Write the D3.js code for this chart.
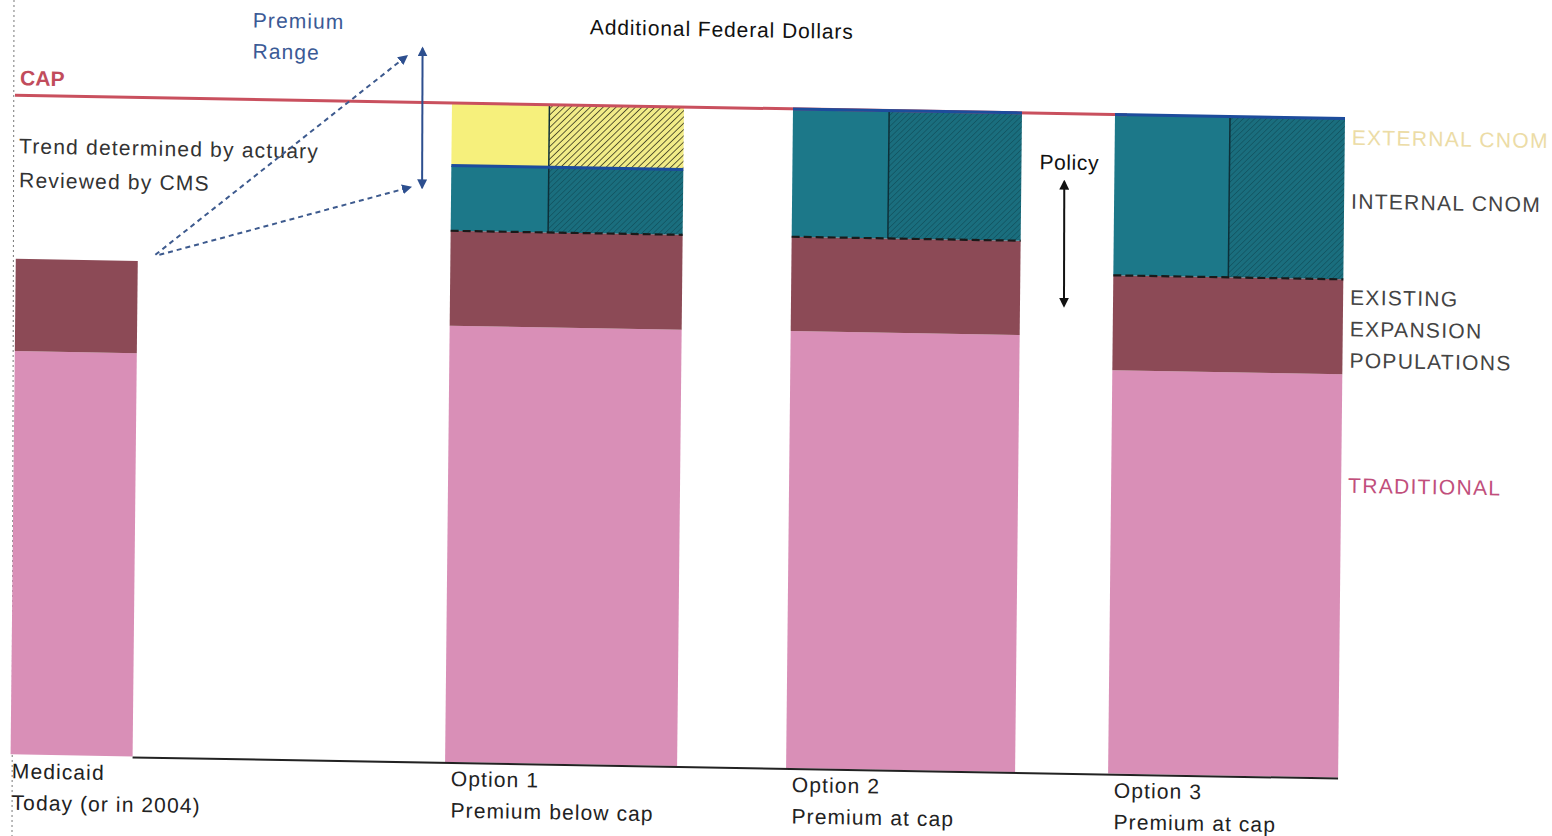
<!DOCTYPE html>
<html><head><meta charset="utf-8">
<script src="https://cdn.jsdelivr.net/npm/d3@7"></script>
<style>body{margin:0;background:#fff}svg{display:block}text{font-family:"Liberation Sans",Arial,sans-serif;letter-spacing:1.1px}</style>
</head><body>
<script>
// ---- data ----
const categories = ["Medicaid", "Option 1", "Option 2", "Option 3"];
const labelLine1 = ["Medicaid", "Option 1", "Option 2", "Option 3"];
const labelLine2 = ["Today (or in 2004)", "Premium below cap", "Premium at cap", "Premium at cap"];
const traditional = [61.2, 66.2, 66.3, 61.2];
const existingExpansion = [14.0, 14.4, 14.3, 14.4];
const internalCnom = [0, 9.9, 19.4, 24.4];
const externalCnom = [0, 9.5, 0, 0];
const capValue = 100;
const hatchShare = [0, 0.58, 0.58, 0.50]; // share of top segments that is hatched (right part)
const seriesKeys = ["traditional", "existing", "internal", "external"];
const legendLabels = [["TRADITIONAL"], ["EXISTING", "EXPANSION", "POPULATIONS"], ["INTERNAL CNOM"], ["EXTERNAL CNOM"]];

// ---- layout ----
const W = 1552, H = 836;
const colors = {traditional: "#d98fb7", existing: "#8c4a56", internal: "#1c7889", external: "#f6f07c"};

const rows = categories.map((c, i) => ({cat: c, traditional: traditional[i], existing: existingExpansion[i], internal: internalCnom[i], external: externalCnom[i], hatch: hatchShare[i]}));

const svg = d3.select("body").append("svg").attr("width", W).attr("height", H);
const defs = svg.append("defs");

function hatchPattern(id, base, line, lw, gap) {
  const p = defs.append("pattern").attr("id", id).attr("patternUnits", "userSpaceOnUse")
    .attr("width", gap).attr("height", gap).attr("patternTransform", "rotate(45)");
  p.append("rect").attr("width", gap).attr("height", gap).attr("fill", base);
  p.append("line").attr("x1", 0).attr("y1", 0).attr("x2", 0).attr("y2", gap).attr("stroke", line).attr("stroke-width", lw);
}
hatchPattern("hatchYellow", "#f2ec88", "#3a3a20", 1.6, 4.5);
hatchPattern("hatchTeal", "#1a6e7e", "#11525f", 1.4, 4);

// faint scan edge on the left
svg.append("line").attr("x1", 14).attr("x2", 12).attr("y1", 0).attr("y2", H)
  .attr("stroke", "#777").attr("stroke-width", 1).attr("stroke-dasharray", "2,3");

const g = svg.append("g").attr("transform", "matrix(1,0.0175,-0.0105,1,0,0)");

const x = d3.scaleOrdinal().domain(categories).range([18.5, 453, 794, 1116]);
const bw = d3.scaleOrdinal().domain(categories).range([122, 232, 229, 230]);
const y = d3.scaleLinear().domain([0, capValue]).range([754, 95]);

const stack = d3.stack().keys(seriesKeys)(rows);

const layers = g.append("g");
stack.forEach(layer => {
  const key = layer.key;
  layer.forEach(d => {
    const r = d.data;
    if (d[1] - d[0] <= 0) return;
    const x0 = x(r.cat), w = bw(r.cat);
    const top = y(d[1]), h = y(d[0]) - y(d[1]);
    if ((key === "internal" || key === "external") && r.hatch > 0) {
      const wh = w * r.hatch, ws = w - wh;
      layers.append("rect").attr("x", x0).attr("y", top).attr("width", ws).attr("height", h).attr("fill", colors[key]);
      layers.append("rect").attr("x", x0 + ws).attr("y", top).attr("width", wh).attr("height", h)
        .attr("fill", key === "external" ? "url(#hatchYellow)" : "url(#hatchTeal)");
      layers.append("line").attr("x1", x0 + ws).attr("x2", x0 + ws).attr("y1", top).attr("y2", top + h)
        .attr("stroke", "#0d2f38").attr("stroke-width", 1.5);
    } else {
      layers.append("rect").attr("x", x0).attr("y", top).attr("width", w).attr("height", h).attr("fill", colors[key]);
    }
  });
});

// dashed line between internal CNOM and existing expansion
rows.forEach(r => {
  if (r.internal <= 0) return;
  const yy = y(r.traditional + r.existing);
  g.append("line").attr("x1", x(r.cat)).attr("x2", x(r.cat) + bw(r.cat)).attr("y1", yy).attr("y2", yy)
    .attr("stroke", "#1a1a1a").attr("stroke-width", 2.2).attr("stroke-dasharray", "8,4");
});

// cap line
g.append("line").attr("x1", 16).attr("x2", 1128).attr("y1", y(capValue)).attr("y2", y(capValue))
  .attr("stroke", "#c9505e").attr("stroke-width", 3);

// blue line on top of internal CNOM
rows.forEach(r => {
  if (r.internal <= 0) return;
  const yy = y(r.traditional + r.existing + r.internal);
  g.append("line").attr("x1", x(r.cat)).attr("x2", x(r.cat) + bw(r.cat)).attr("y1", yy).attr("y2", yy)
    .attr("stroke", "#1d4c9c").attr("stroke-width", 3);
});

// baseline
g.append("line").attr("x1", x("Medicaid") + bw("Medicaid")).attr("x2", x("Option 3") + bw("Option 3"))
  .attr("y1", y(0) + 1).attr("y2", y(0) + 1).attr("stroke", "#222").attr("stroke-width", 2);

// category labels
categories.forEach((c, i) => {
  const lx = x(c) + (i === 0 ? 1.5 : 6);
  g.append("text").attr("x", lx).attr("y", 778).attr("font-size", 21).attr("fill", "#222").text(labelLine1[i]);
  g.append("text").attr("x", lx).attr("y", 809.5).attr("font-size", 21).attr("fill", "#222").text(labelLine2[i]);
});

// legend labels on the right
const lgX = 1353;
const lgStyle = [
  {color: "#c14f7c", y: 469},
  {color: "#444", y: 281},
  {color: "#444", y: 185},
  {color: "#ecdca6", y: 121}
];
legendLabels.forEach((lines, i) => {
  lines.forEach((t, j) => {
    g.append("text").attr("x", lgX).attr("y", lgStyle[i].y + j * 31.5).attr("font-size", 21)
      .attr("fill", lgStyle[i].color).style("letter-spacing", "1.3px").text(t);
  });
});

// annotations
g.append("text").attr("x", 590).attr("y", 24).attr("font-size", 21).attr("fill", "#111").style("letter-spacing", "0.9px").text("Additional Federal Dollars");
g.append("text").attr("x", 253).attr("y", 23).attr("font-size", 21).attr("fill", "#3b5a96").text("Premium");
g.append("text").attr("x", 253).attr("y", 54).attr("font-size", 21).attr("fill", "#3b5a96").text("Range");
g.append("text").attr("x", 21).attr("y", 85).attr("font-size", 21).attr("font-weight", "bold").attr("fill", "#c14c5c").style("letter-spacing", "0px").text("CAP");
g.append("text").attr("x", 20.5).attr("y", 153).attr("font-size", 21).attr("fill", "#333").style("letter-spacing", "1.2px").text("Trend determined by actuary");
g.append("text").attr("x", 21).attr("y", 187).attr("font-size", 21).attr("fill", "#333").style("letter-spacing", "1.2px").text("Reviewed by CMS");
g.append("text").attr("x", 1041).attr("y", 151).attr("font-size", 21).attr("fill", "#111").style("letter-spacing", "0.6px").text("Policy");

// arrow markers
function marker(id, color) {
  defs.append("marker").attr("id", id).attr("viewBox", "0 0 10 10").attr("refX", 8).attr("refY", 5)
    .attr("markerWidth", 5).attr("markerHeight", 5).attr("orient", "auto-start-reverse")
    .append("path").attr("d", "M0,0L10,5L0,10z").attr("fill", color);
}
marker("arBlue", "#2d4f8f");
marker("arBlack", "#111");

g.append("line").attr("x1", 158).attr("y1", 252).attr("x2", 407).attr("y2", 49)
  .attr("stroke", "#3d5a8e").attr("stroke-width", 2).attr("stroke-dasharray", "5,4").attr("marker-end", "url(#arBlue)");
g.append("line").attr("x1", 162).attr("y1", 252).attr("x2", 412).attr("y2", 180)
  .attr("stroke", "#3d5a8e").attr("stroke-width", 2).attr("stroke-dasharray", "5,4").attr("marker-end", "url(#arBlue)");
g.append("line").attr("x1", 423).attr("y1", 41).attr("x2", 424).attr("y2", 180)
  .attr("stroke", "#2d4f8f").attr("stroke-width", 2).attr("marker-start", "url(#arBlue)").attr("marker-end", "url(#arBlue)");
g.append("line").attr("x1", 1066).attr("y1", 163).attr("x2", 1067).attr("y2", 287)
  .attr("stroke", "#111").attr("stroke-width", 2).attr("marker-start", "url(#arBlack)").attr("marker-end", "url(#arBlack)");
</script>
</body></html>
